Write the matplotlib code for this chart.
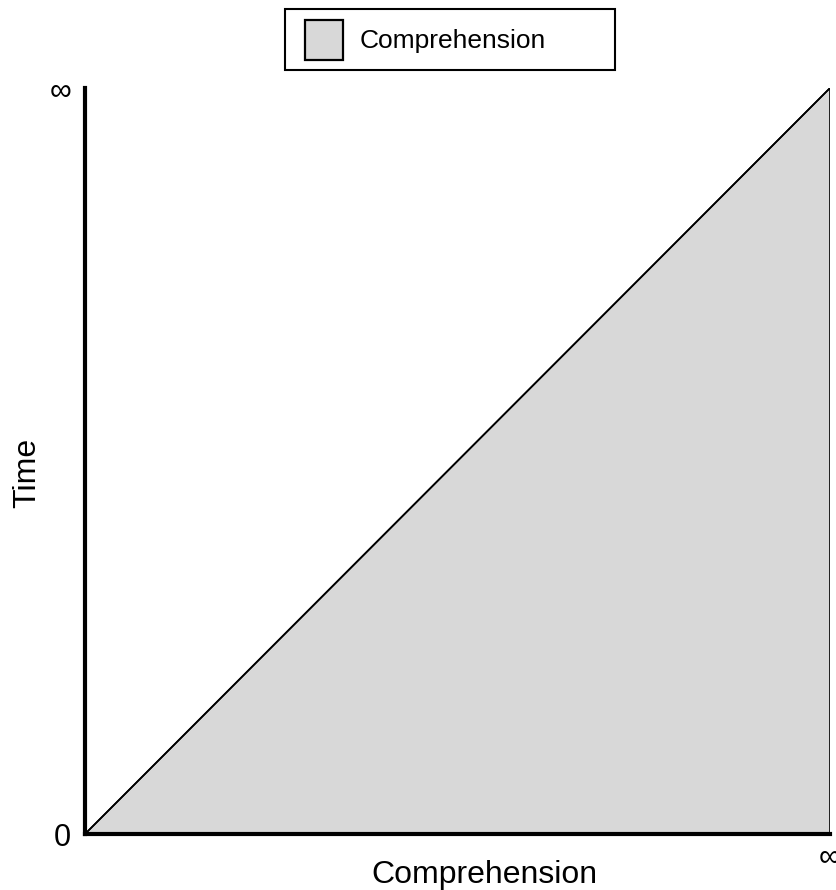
import matplotlib
matplotlib.use("Agg")
import matplotlib.pyplot as plt
from matplotlib.patches import Patch, Rectangle
from matplotlib.legend_handler import HandlerPatch

plt.rcParams['font.family'] = ['Liberation Sans', 'DejaVu Sans']

# Data
line_x = [0, 1]
line_y = [0, 1]
area_x = [0, 1, 1]
area_y = [0, 1, 0]
x_ticks = [1]
x_tick_labels = ['∞']
y_ticks = [0, 1]
y_tick_labels = ['0', '∞']
series_name = 'Comprehension'

fig = plt.figure(figsize=(8.36, 8.9), dpi=100)
ax = fig.add_axes([85/836, 1 - 834/890, (830-85)/836, (834-88)/890])

ax.fill(area_x, area_y, facecolor='#d8d8d8', edgecolor='black', linewidth=1.2, zorder=1)
ax.plot(line_x, line_y, color='black', linewidth=1.2, zorder=2)

ax.set_xlim(0, 1)
ax.set_ylim(0, 1)
ax.set_xticks(x_ticks)
ax.set_xticklabels(x_tick_labels, fontsize=22)
ax.set_yticks(y_ticks)
ax.set_yticklabels(y_tick_labels, fontsize=22)
ax.tick_params(length=0)
ax.tick_params(axis='x', pad=6)
ax.tick_params(axis='y', pad=10)

for s in ['top', 'right']:
    ax.spines[s].set_visible(False)
for s in ['left', 'bottom']:
    ax.spines[s].set_linewidth(3)
    ax.spines[s].set_color('black')

ax.set_xlabel('Comprehension', fontsize=23)
ax.xaxis.label.set_va('baseline')
ax.xaxis.set_label_coords(0.5356, -(883 - 834) / 746)
ax.set_ylabel('Time', fontsize=23)
ax.yaxis.set_label_coords(-0.057, (834 - 473) / 746)


class OffsetRectHandler(HandlerPatch):
    def __init__(self, rect_len, **kw):
        super().__init__(**kw)
        self.rect_len = rect_len

    def create_artists(self, legend, orig_handle, xdescent, ydescent,
                       width, height, fontsize, trans):
        w = self.rect_len * fontsize
        p = Rectangle((-xdescent + width - w, -ydescent), w, height)
        self.update_prop(p, orig_handle, legend)
        p.set_transform(trans)
        return [p]


handle = Patch(facecolor='#d8d8d8', edgecolor='black', linewidth=1.6, label=series_name)
leg = fig.legend(handles=[handle], loc='upper center',
                 bbox_to_anchor=(0.3409, 0.5, 0.3947, 0.4899), mode='expand',
                 fontsize=19, frameon=True, fancybox=False, edgecolor='black',
                 handlelength=1.78, handleheight=1.955, borderpad=0.40,
                 handletextpad=0.65, borderaxespad=0,
                 handler_map={Patch: OffsetRectHandler(1.44)})
leg.get_frame().set_linewidth(1.5)
leg.get_frame().set_alpha(1)

fig.savefig('out.png', dpi=100)
